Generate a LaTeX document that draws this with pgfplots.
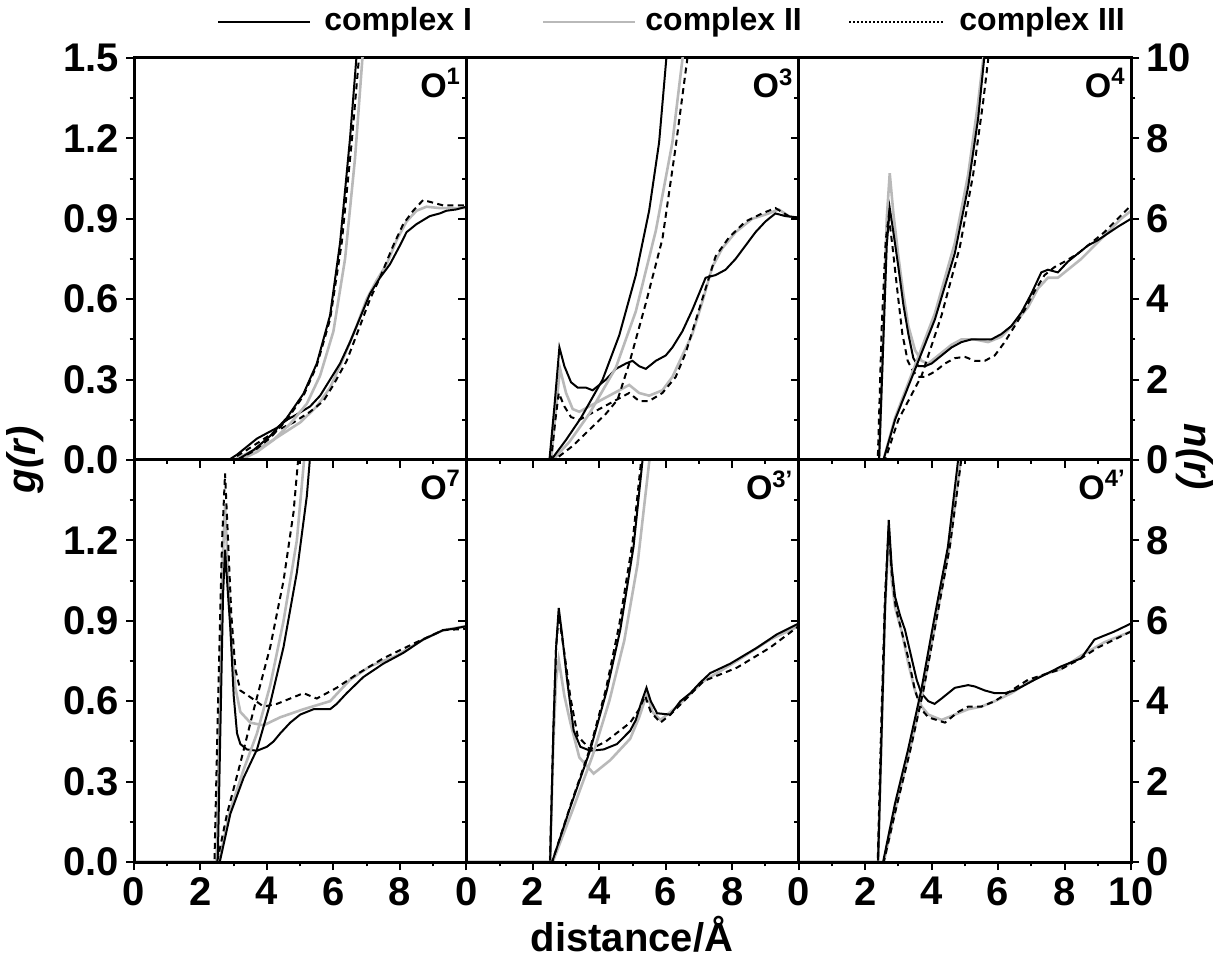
\documentclass[border=0pt]{standalone}
\usepackage{fontspec}
\setmainfont{Liberation Sans}
\usepackage{pgfplots}
\pgfplotsset{compat=1.18}
\definecolor{grayc}{RGB}{185,185,185}
\newcommand{\tickfont}{\fontsize{20}{20}\selectfont\bfseries}
\newcommand{\legfont}{\fontsize{16}{16}\selectfont\bfseries}
\newcommand{\labfont}{\fontsize{17}{17}\selectfont\bfseries}
\tikzset{plab/.style={anchor=north east,font=\labfont,inner sep=0pt}}
\pgfplotsset{
  panel/.style={width=166.17pt,height=201pt,scale only axis,anchor=north west,xmin=0,xmax=10,
     axis line style={line width=1.5pt}, tick style={black,line width=1pt},
     major tick length=4pt, minor tick length=2.2pt},
  gax/.style={panel, ymin=0,ymax=1.5},
  nax/.style={panel, ymin=0,ymax=10},
  tax/.style={panel, ymin=0,ymax=1, ytick=\empty, xtick={0,2,4,6,8,10}, minor x tick num=1,
     xtick pos=top, tick align=inside, xticklabels={}},
  nin/.style={nax, xtick=\empty, ytick={0,2,4,6,8,10}, minor y tick num=1, ytick pos=right, tick align=inside, yticklabels={}},
  cI/.style={black,line width=1pt,mark=none},
  cII/.style={grayc,line width=1.3pt,mark=none},
  cIII/.style={black,line width=1pt,mark=none,dash pattern=on 3pt off 2.2pt},
}
\begin{document}
\begin{tikzpicture}
\useasboundingbox (0,0) rectangle (609.5pt,-480.5pt);

% ===================== O1 (top left) =====================
\begin{axis}[gax, at={(67pt,-29pt)}, xtick=\empty,
  ytick={0,0.3,0.6,0.9,1.2,1.5}, yticklabels={0.0,0.3,0.6,0.9,1.2,1.5}, minor y tick num=1,
  ytick pos=left, tick align=outside, yticklabel style={font=\tickfont}]
\addplot[cII] coordinates {(0,0) (3.0,0) (3.5,0.03) (4.0,0.06) (4.5,0.1) (5.0,0.14) (5.5,0.2) (5.9,0.27) (6.3,0.38) (6.7,0.5) (7.0,0.6) (7.3,0.67) (7.6,0.73) (7.9,0.82) (8.2,0.89) (8.5,0.93) (8.8,0.945) (9.2,0.94) (9.6,0.94) (10,0.94)};
\addplot[cI] coordinates {(0,0) (2.85,0) (3.1,0.02) (3.4,0.05) (3.7,0.08) (4.0,0.1) (4.3,0.12) (4.6,0.15) (4.9,0.17) (5.3,0.2) (5.6,0.24) (5.9,0.3) (6.2,0.36) (6.5,0.44) (6.8,0.53) (7.1,0.62) (7.4,0.68) (7.7,0.73) (8.0,0.8) (8.2,0.85) (8.5,0.88) (8.9,0.91) (9.2,0.92) (9.4,0.93) (9.7,0.935) (10,0.945)};
\addplot[cIII] coordinates {(0,0) (2.9,0) (3.3,0.03) (3.8,0.07) (4.3,0.11) (4.8,0.14) (5.3,0.18) (5.7,0.22) (6.0,0.28) (6.4,0.37) (6.8,0.5) (7.1,0.6) (7.4,0.68) (7.8,0.8) (8.1,0.88) (8.4,0.93) (8.7,0.97) (9.0,0.96) (9.3,0.95) (9.6,0.95) (10,0.95)};
\node[plab] at (rel axis cs:0.985,0.975) {O\textsuperscript{1}};
\end{axis}
\begin{axis}[nin, at={(67pt,-29pt)}]
\addplot[cII] coordinates {(0,0) (3.2,0) (3.7,0.2) (4.2,0.5) (4.7,0.9) (5.2,1.4) (5.6,2.1) (6.0,3.2) (6.35,5.0) (6.65,7.5) (6.9,10.3)};
\addplot[cI] coordinates {(0,0) (3.1,0) (3.6,0.25) (4.1,0.6) (4.6,1.05) (5.1,1.65) (5.5,2.4) (5.9,3.6) (6.2,5.4) (6.5,8.0) (6.72,10.3)};
\addplot[cIII] coordinates {(0,0) (3.1,0) (3.6,0.22) (4.1,0.55) (4.6,1.0) (5.1,1.6) (5.5,2.35) (5.9,3.5) (6.25,5.4) (6.55,7.9) (6.8,10.3)};
\end{axis}

% ===================== O3 (top middle) =====================
\begin{axis}[gax, at={(233.17pt,-29pt)}, xtick=\empty, ytick=\empty]
\addplot[cII] coordinates {(0,0) (2.55,0) (2.7,0.2) (2.82,0.34) (3.0,0.25) (3.2,0.19) (3.4,0.18) (3.7,0.2) (4.0,0.22) (4.3,0.24) (4.6,0.26) (4.9,0.28) (5.2,0.25) (5.5,0.24) (5.9,0.26) (6.2,0.31) (6.5,0.39) (6.8,0.47) (7.1,0.59) (7.4,0.72) (7.7,0.79) (8.1,0.85) (8.6,0.9) (9.1,0.92) (9.4,0.935) (9.7,0.91) (10,0.9)};
\addplot[cI] coordinates {(0,0) (2.5,0) (2.65,0.2) (2.8,0.42) (2.95,0.35) (3.15,0.29) (3.35,0.27) (3.6,0.27) (3.8,0.26) (4.0,0.28) (4.2,0.3) (4.5,0.34) (4.8,0.36) (5.0,0.37) (5.2,0.35) (5.4,0.34) (5.7,0.37) (6.0,0.39) (6.2,0.42) (6.5,0.48) (6.8,0.56) (7.0,0.62) (7.2,0.68) (7.5,0.69) (7.8,0.71) (8.1,0.75) (8.4,0.8) (8.7,0.85) (9.0,0.89) (9.3,0.92) (9.6,0.91) (10,0.905)};
\addplot[cIII] coordinates {(0,0) (2.55,0) (2.68,0.15) (2.78,0.25) (2.95,0.2) (3.15,0.16) (3.4,0.15) (3.7,0.17) (4.0,0.19) (4.3,0.21) (4.6,0.23) (4.9,0.25) (5.2,0.22) (5.5,0.22) (5.9,0.25) (6.3,0.31) (6.6,0.4) (6.9,0.52) (7.2,0.64) (7.5,0.76) (7.9,0.83) (8.4,0.89) (8.9,0.92) (9.3,0.94) (9.7,0.91) (10,0.9)};
\node[plab] at (rel axis cs:0.985,0.975) {O\textsuperscript{3}};
\end{axis}
\begin{axis}[nin, at={(233.17pt,-29pt)}]
\addplot[cII] coordinates {(0,0) (2.6,0) (3.1,0.45) (3.7,1.15) (4.5,2.3) (5.1,3.7) (5.7,5.7) (6.2,7.9) (6.55,10.3)};
\addplot[cI] coordinates {(0,0) (2.55,0) (3.0,0.5) (3.45,1.05) (4.1,2.0) (4.6,3.1) (5.1,4.6) (5.5,6.2) (5.8,7.9) (6.05,10.3)};
\addplot[cIII] coordinates {(0,0) (2.65,0) (3.2,0.35) (3.7,0.75) (4.2,1.15) (4.55,1.5) (4.9,2.4) (5.4,3.9) (5.9,5.5) (6.3,7.8) (6.7,10.3)};
\end{axis}

% ===================== O4 (top right) =====================
\begin{axis}[gax, at={(399.33pt,-29pt)}, xtick=\empty, ytick=\empty]
\addplot[cII] coordinates {(0,0) (2.42,0) (2.55,0.5) (2.65,0.9) (2.74,1.07) (2.85,0.92) (3.0,0.76) (3.15,0.62) (3.3,0.5) (3.5,0.41) (3.7,0.37) (3.9,0.36) (4.2,0.39) (4.6,0.43) (4.9,0.45) (5.3,0.45) (5.7,0.44) (6.1,0.46) (6.5,0.51) (6.9,0.57) (7.2,0.64) (7.5,0.68) (7.8,0.68) (8.1,0.71) (8.5,0.75) (8.9,0.8) (9.3,0.85) (9.7,0.9) (10,0.93)};
\addplot[cI] coordinates {(0,0) (2.42,0) (2.55,0.45) (2.65,0.8) (2.74,0.94) (2.85,0.85) (3.0,0.72) (3.15,0.58) (3.3,0.47) (3.45,0.38) (3.6,0.35) (3.8,0.35) (4.0,0.36) (4.3,0.39) (4.6,0.42) (4.9,0.44) (5.2,0.45) (5.5,0.45) (5.8,0.45) (6.1,0.47) (6.4,0.5) (6.7,0.55) (7.0,0.62) (7.3,0.7) (7.5,0.71) (7.8,0.7) (8.1,0.74) (8.4,0.77) (8.7,0.8) (9.0,0.82) (9.3,0.845) (9.6,0.87) (10,0.9)};
\addplot[cIII] coordinates {(0,0) (2.38,0) (2.5,0.5) (2.62,0.82) (2.71,0.91) (2.82,0.8) (2.98,0.62) (3.12,0.47) (3.28,0.37) (3.45,0.33) (3.6,0.31) (3.8,0.31) (4.1,0.33) (4.4,0.36) (4.7,0.38) (5.0,0.385) (5.3,0.37) (5.6,0.37) (5.9,0.39) (6.2,0.44) (6.5,0.5) (6.8,0.56) (7.1,0.63) (7.4,0.69) (7.7,0.72) (8.0,0.74) (8.4,0.77) (8.8,0.81) (9.2,0.85) (9.6,0.9) (10,0.95)};
\node[plab] at (rel axis cs:0.985,0.975) {O\textsuperscript{4}};
\end{axis}
\begin{axis}[nax, at={(399.33pt,-29pt)}, xtick=\empty, ytick={0,2,4,6,8,10}, yticklabels={0,2,4,6,8,10},
  minor y tick num=1, ytick pos=right, yticklabel pos=right, tick align=outside, yticklabel style={font=\tickfont}]
\addplot[cII] coordinates {(0,0) (2.55,0) (2.9,1.05) (3.5,2.35) (4.1,3.65) (4.7,5.4) (5.1,7.1) (5.4,8.9) (5.6,10.3)};
\addplot[cI] coordinates {(0,0) (2.55,0) (2.9,1.0) (3.5,2.25) (4.1,3.5) (4.7,5.15) (5.1,6.8) (5.4,8.5) (5.62,10.3)};
\addplot[cIII] coordinates {(0,0) (2.6,0) (3.0,1.0) (3.7,2.1) (4.3,3.6) (4.85,5.3) (5.25,7.1) (5.55,8.9) (5.75,10.3)};
\end{axis}

% ===================== O7 (bottom left) =====================
\begin{axis}[gax, at={(67pt,-230pt)},
  xtick={0,2,4,6,8,10}, xticklabels={0,2,4,6,8,{}}, minor x tick num=1, xtick pos=bottom,
  ytick={0,0.3,0.6,0.9,1.2,1.5}, yticklabels={0.0,0.3,0.6,0.9,1.2,{}}, minor y tick num=1,
  ytick pos=left, tick align=outside, ticklabel style={font=\tickfont}]
\addplot[cII] coordinates {(0,0) (2.48,0) (2.58,0.6) (2.66,1.1) (2.74,1.33) (2.82,1.1) (2.92,0.85) (3.05,0.65) (3.2,0.56) (3.5,0.52) (3.9,0.51) (4.4,0.54) (5.1,0.57) (5.9,0.6) (6.2,0.64) (6.5,0.68) (7.1,0.73) (7.9,0.77) (8.7,0.83) (9.3,0.865) (10,0.88)};
\addplot[cI] coordinates {(0,0) (2.52,0) (2.6,0.5) (2.68,1.0) (2.74,1.165) (2.8,1.05) (2.9,0.87) (3.0,0.62) (3.1,0.48) (3.2,0.44) (3.4,0.42) (3.7,0.415) (4.0,0.43) (4.2,0.45) (4.4,0.48) (4.7,0.52) (5.0,0.55) (5.4,0.57) (5.9,0.57) (6.1,0.59) (6.4,0.63) (6.9,0.69) (7.5,0.74) (8.1,0.78) (8.7,0.83) (9.3,0.865) (9.6,0.87) (10,0.88)};
\addplot[cIII] coordinates {(0,0) (2.42,0) (2.55,0.7) (2.65,1.2) (2.74,1.45) (2.83,1.2) (2.93,0.92) (3.05,0.72) (3.2,0.64) (3.5,0.615) (3.9,0.58) (4.3,0.59) (4.7,0.61) (5.1,0.63) (5.5,0.61) (6.1,0.65) (6.7,0.7) (7.5,0.76) (8.5,0.82) (9.3,0.865) (10,0.87)};
\node[plab] at (rel axis cs:0.985,0.975) {O\textsuperscript{7}};
\end{axis}
\begin{axis}[nin, at={(67pt,-230pt)}]
\addplot[cII] coordinates {(0,0) (2.55,0) (2.9,1.3) (3.3,2.3) (3.7,3.2) (4.1,4.4) (4.5,6.0) (4.9,8.0) (5.15,10.3)};
\addplot[cI] coordinates {(0,0) (2.58,0) (2.9,1.2) (3.3,2.1) (3.7,2.8) (4.1,3.95) (4.5,5.35) (4.9,7.2) (5.2,9.1) (5.32,10.3)};
\addplot[cIII] coordinates {(0,0) (2.5,0) (2.8,1.2) (3.2,2.46) (3.6,3.78) (4.1,5.35) (4.5,7.0) (4.8,8.7) (4.97,10.3)};
\end{axis}
\begin{axis}[tax, at={(67pt,-230pt)}]
\end{axis}

% ===================== O3' (bottom middle) =====================
\begin{axis}[gax, at={(233.17pt,-230pt)},
  xtick={0,2,4,6,8,10}, xticklabels={0,2,4,6,8,{}}, minor x tick num=1, xtick pos=bottom,
  ytick=\empty, tick align=outside, ticklabel style={font=\tickfont}]
\addplot[cII] coordinates {(0,0) (2.52,0) (2.62,0.45) (2.7,0.68) (2.78,0.755) (2.95,0.62) (3.13,0.52) (3.4,0.39) (3.83,0.33) (4.33,0.38) (4.93,0.46) (5.2,0.54) (5.44,0.63) (5.6,0.56) (5.84,0.53) (6.34,0.58) (7.14,0.675) (8.14,0.75) (9.14,0.83) (10,0.88)};
\addplot[cI] coordinates {(0,0) (2.52,0) (2.62,0.5) (2.7,0.8) (2.78,0.948) (2.88,0.85) (3.03,0.68) (3.23,0.49) (3.43,0.43) (3.73,0.415) (4.13,0.42) (4.53,0.44) (4.93,0.49) (5.1,0.53) (5.25,0.59) (5.42,0.65) (5.55,0.6) (5.74,0.555) (6.14,0.55) (6.44,0.6) (6.74,0.63) (7.04,0.67) (7.34,0.705) (7.94,0.74) (8.75,0.8) (9.35,0.85) (10,0.89)};
\addplot[cIII] coordinates {(0,0) (2.52,0) (2.62,0.5) (2.7,0.8) (2.78,0.92) (2.95,0.78) (3.13,0.615) (3.35,0.47) (3.73,0.42) (4.2,0.45) (4.93,0.52) (5.2,0.57) (5.38,0.62) (5.55,0.56) (5.84,0.52) (6.14,0.55) (7.14,0.675) (8.14,0.725) (9.14,0.8) (10,0.88)};
\node[plab] at (rel axis cs:0.985,0.975) {O\textsuperscript{3'}};
\end{axis}
\begin{axis}[nin, at={(233.17pt,-230pt)}]
\addplot[cII] coordinates {(0,0) (2.6,0) (3.2,1.3) (3.8,2.65) (4.3,4.0) (4.75,5.5) (5.15,7.4) (5.55,10.3)};
\addplot[cI] coordinates {(0,0) (2.58,0) (3.13,1.37) (3.73,2.79) (4.23,4.28) (4.63,5.77) (5.03,7.84) (5.34,10.3)};
\addplot[cIII] coordinates {(0,0) (2.58,0) (3.13,1.4) (3.73,2.85) (4.2,4.3) (4.6,5.9) (5.0,7.95) (5.3,10.3)};
\end{axis}
\begin{axis}[tax, at={(233.17pt,-230pt)}]
\end{axis}

% ===================== O4' (bottom right) =====================
\begin{axis}[gax, at={(399.33pt,-230pt)},
  xtick={0,2,4,6,8,10}, xticklabels={0,2,4,6,8,10}, minor x tick num=1, xtick pos=bottom,
  ytick=\empty, tick align=outside, ticklabel style={font=\tickfont}]
\addplot[cII] coordinates {(0,0) (2.39,0) (2.5,0.5) (2.6,0.95) (2.71,1.22) (2.8,1.05) (2.9,0.95) (3.1,0.86) (3.3,0.74) (3.5,0.64) (3.7,0.58) (3.9,0.55) (4.3,0.53) (4.7,0.55) (5.1,0.57) (5.5,0.58) (5.9,0.6) (6.4,0.63) (6.9,0.67) (7.4,0.7) (7.9,0.72) (8.5,0.77) (9.2,0.82) (10,0.86)};
\addplot[cI] coordinates {(0,0) (2.39,0) (2.5,0.5) (2.6,0.95) (2.71,1.276) (2.8,1.1) (2.9,0.99) (3.05,0.92) (3.2,0.866) (3.39,0.765) (3.55,0.68) (3.69,0.63) (3.9,0.6) (4.09,0.59) (4.3,0.61) (4.5,0.63) (4.7,0.65) (4.9,0.655) (5.1,0.66) (5.3,0.655) (5.6,0.64) (5.9,0.63) (6.2,0.63) (6.5,0.64) (7.1,0.68) (7.9,0.73) (8.5,0.76) (8.9,0.83) (9.5,0.86) (10,0.89)};
\addplot[cIII] coordinates {(0,0) (2.38,0) (2.48,0.5) (2.6,1.0) (2.71,1.25) (2.8,1.08) (2.92,0.95) (3.1,0.86) (3.3,0.76) (3.5,0.64) (3.69,0.57) (3.9,0.54) (4.4,0.52) (4.8,0.56) (5.1,0.58) (5.5,0.58) (5.9,0.6) (6.4,0.64) (6.9,0.68) (7.4,0.7) (7.9,0.72) (8.5,0.76) (9.0,0.8) (9.5,0.83) (10,0.86)};
\node[plab] at (rel axis cs:0.985,0.975) {O\textsuperscript{4'}};
\end{axis}
\begin{axis}[nax, at={(399.33pt,-230pt)}, xtick=\empty, ytick={0,2,4,6,8,10}, yticklabels={0,2,4,6,8,{}},
  minor y tick num=1, ytick pos=right, yticklabel pos=right, tick align=outside, yticklabel style={font=\tickfont}]
\addplot[cII] coordinates {(0,0) (2.56,0) (2.95,1.45) (3.35,2.8) (3.75,4.3) (4.15,6.1) (4.55,7.9) (4.92,10.3)};
\addplot[cI] coordinates {(0,0) (2.54,0) (2.9,1.46) (3.29,2.79) (3.69,4.28) (4.09,6.1) (4.49,7.84) (4.84,10.3)};
\addplot[cIII] coordinates {(0,0) (2.56,0) (2.95,1.4) (3.35,2.75) (3.75,4.25) (4.15,6.05) (4.55,7.85) (4.94,10.3)};
\end{axis}
\begin{axis}[tax, at={(399.33pt,-230pt)}]
\end{axis}

% ===================== labels and legend =====================
\node[rotate=90, font=\fontsize{20}{20}\selectfont\bfseries\itshape] at (12.5pt,-230pt) {g(r)};
\node[rotate=-90, font=\fontsize{20}{20}\selectfont\bfseries\itshape] at (597.5pt,-228.5pt) {n(r)};
\node[font=\fontsize{20}{20}\selectfont\bfseries] at (316pt,-467pt) {distance/Å};

\draw[black,line width=1pt] (109pt,-11pt) -- (155pt,-11pt);
\node[anchor=west,font=\legfont,inner sep=0pt] at (162pt,-11pt) {complex I};
\draw[grayc,line width=1.3pt] (271.5pt,-11pt) -- (317.5pt,-11pt);
\node[anchor=west,font=\legfont,inner sep=0pt] at (322.5pt,-11pt) {complex II};
\draw[black,line width=0.8pt,dash pattern=on 1pt off 1pt] (424.5pt,-11pt) -- (472pt,-11pt);
\node[anchor=west,font=\legfont,inner sep=0pt] at (479.5pt,-11pt) {complex III};
\end{tikzpicture}
\end{document}
